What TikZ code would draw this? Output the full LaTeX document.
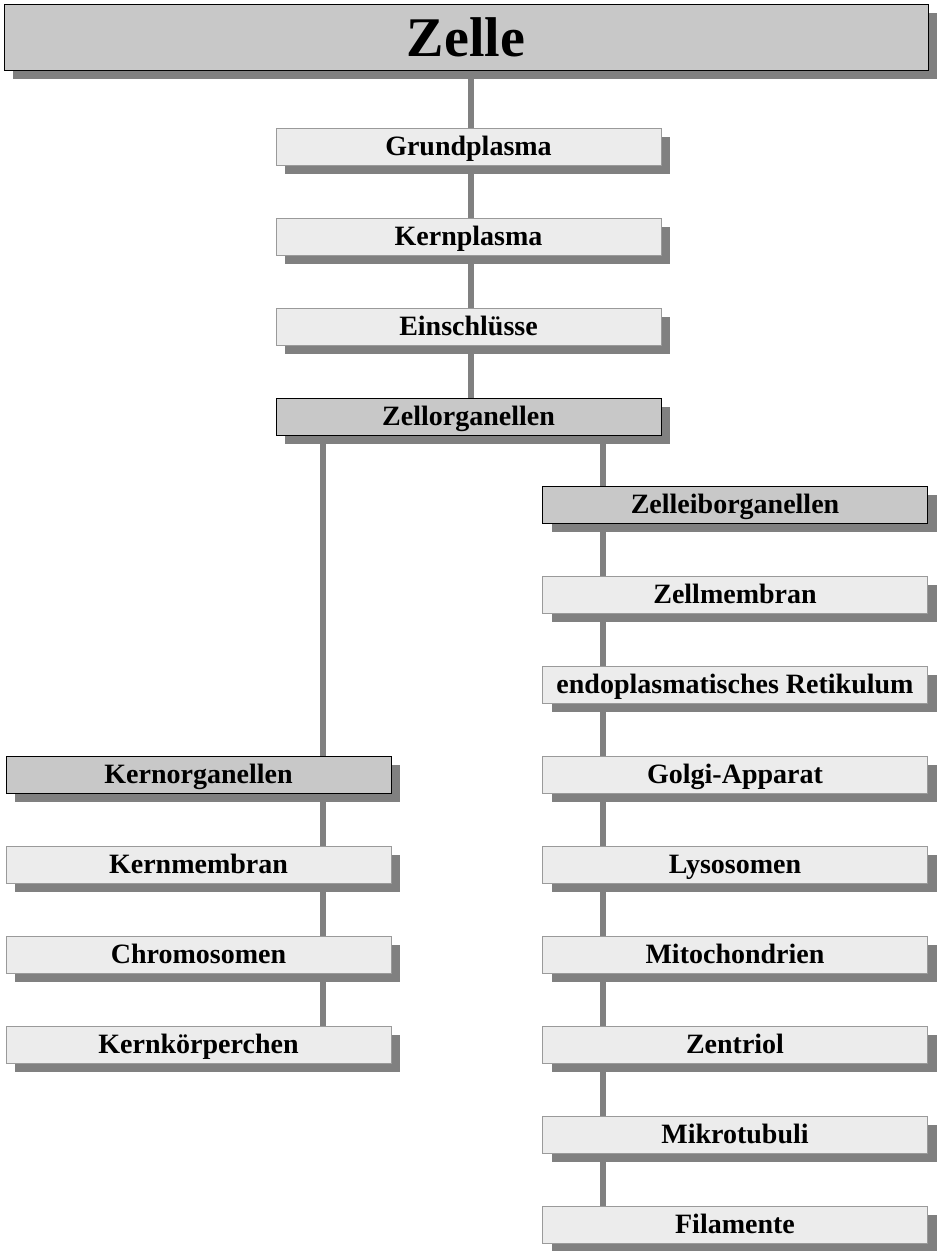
\documentclass[tikz,border=0pt]{standalone}
\usepackage{fontspec}
\setmainfont{Liberation Serif}
\usetikzlibrary{shadows,backgrounds}
\definecolor{lightfill}{HTML}{ECECEC}
\definecolor{darkfill}{HTML}{C8C8C8}
\definecolor{linegray}{HTML}{808080}
\definecolor{bordergray}{HTML}{9A9A9A}
\tikzset{
  boxbase/.style={rectangle, inner sep=0pt, minimum width=385pt, minimum height=37pt,
    font=\fontsize{28}{30}\selectfont\bfseries, text height=18.5pt, text depth=0pt,
    line width=1pt,
    drop shadow={shadow xshift=9pt, shadow yshift=-9pt, opacity=1, fill=linegray}},
  lightbox/.style={boxbase, fill=lightfill, draw=bordergray},
  darkbox/.style={boxbase, fill=darkfill, draw=black},
  conn/.style={line width=6pt, draw=linegray}
}
\begin{document}
\begin{tikzpicture}[x=1pt,y=-1pt]
\useasboundingbox (0,0) rectangle (937,1251);
% title
\node[darkbox, minimum width=924pt, minimum height=66pt, font=\fontsize{56}{60}\selectfont\bfseries, text height=38pt] (zelle) at (466,37) {Zelle};
% center column
\node[lightbox] (grund) at (468.5,146.5) {Grundplasma};
\node[lightbox] (kernpl) at (468.5,236.5) {Kernplasma};
\node[lightbox] (einsch) at (468.5,326.5) {Einschlüsse};
\node[darkbox] (zellorg) at (468.5,416.5) {Zellorganellen};
% right column
\node[darkbox] (zelleib) at (735,504.5) {Zelleiborganellen};
\node[lightbox] (zellmem) at (735,594.5) {Zellmembran};
\node[lightbox] (endo) at (735,684.5) {endoplasmatisches Retikulum};
\node[lightbox] (golgi) at (735,774.5) {Golgi-Apparat};
\node[lightbox] (lyso) at (735,864.5) {Lysosomen};
\node[lightbox] (mito) at (735,954.5) {Mitochondrien};
\node[lightbox] (zentr) at (735,1044.5) {Zentriol};
\node[lightbox] (mikro) at (735,1134.5) {Mikrotubuli};
\node[lightbox] (fila) at (735,1224.5) {Filamente};
% left column
\node[darkbox] (kernorg) at (198.5,774.5) {Kernorganellen};
\node[lightbox] (kernmem) at (198.5,864.5) {Kernmembran};
\node[lightbox] (chromo) at (198.5,954.5) {Chromosomen};
\node[lightbox] (kernk) at (198.5,1044.5) {Kernkörperchen};
\coordinate (L) at (323,0);
\coordinate (R) at (603,0);
\coordinate (M) at (471,0);
\begin{scope}[on background layer]
\draw[conn] (zelle.south -| M) -- (zellorg.north -| M);
\draw[conn] (zellorg.south -| L) -- (kernorg.north -| L);
\draw[conn] (kernorg.south -| L) -- (kernk.north -| L);
\draw[conn] (zellorg.south -| R) -- (fila.north -| R);
\end{scope}
\end{tikzpicture}
\end{document}
